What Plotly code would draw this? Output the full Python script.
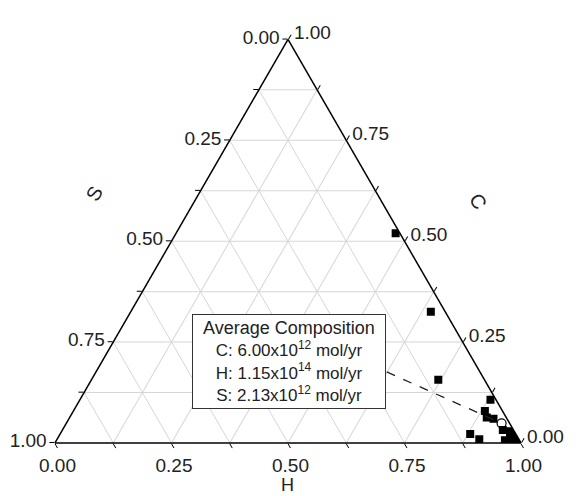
import plotly.graph_objects as go

# ---- data: sample compositions (fractions) ----
C_frac = [0.520, 0.325, 0.157, 0.107, 0.079, 0.063, 0.060, 0.032, 0.029, 0.027,
          0.022, 0.009, 0.007, 0.017, 0.011, 0.003, 0.007, 0.011, 0.001]
H_frac = [0.471, 0.644, 0.744, 0.881, 0.883, 0.895, 0.911, 0.945, 0.962, 0.967,
          0.880, 0.906, 0.962, 0.975, 0.985, 0.982, 0.991, 0.971, 0.994]
S_frac = [round(1 - c - h, 3) for c, h in zip(C_frac, H_frac)]

# ---- average composition (fluxes) ----
flux_species = ["C", "H", "S"]
flux_mantissa = [6.00, 1.15, 2.13]
flux_exponent = [12, 14, 12]
flux_values = [m * 10 ** e for m, e in zip(flux_mantissa, flux_exponent)]
flux_total = sum(flux_values)
avg_C, avg_H, avg_S = [v / flux_total for v in flux_values]

# leader line anchor (at the legend box edge), in composition space
leader_C, leader_H, leader_S = 0.176, 0.624, 0.200

# ---- ticks ----
tick_vals = [0, 0.125, 0.25, 0.375, 0.5, 0.625, 0.75, 0.875, 1.0]
major_ticks = [0, 0.25, 0.5, 0.75, 1.0]


def rev_text(vals):
    return [f"{1 - v:.2f}" if v in major_ticks else "" for v in vals]


font = "Liberation Sans, Arial, sans-serif"
axis_common = dict(
    min=0,
    tickmode="array",
    tickvals=tick_vals,
    ticktext=rev_text(tick_vals),
    showgrid=True,
    gridcolor="#d6d6d6",
    gridwidth=1,
    linecolor="black",
    linewidth=1.5,
    ticks="outside",
    ticklen=5,
    tickcolor="black",
    tickwidth=1,
    tickfont=dict(family=font, size=19, color="#222222"),
    title=dict(text=""),
)

fig = go.Figure()

fig.add_trace(go.Scatterternary(
    a=C_frac, b=S_frac, c=H_frac,
    mode="markers",
    marker=dict(symbol="square", size=8, color="black"),
    showlegend=False,
))

fig.add_trace(go.Scatterternary(
    a=[leader_C, avg_C], b=[leader_S, avg_S], c=[leader_H, avg_H],
    mode="lines",
    line=dict(color="#222222", width=1.3, dash="dash"),
    showlegend=False,
))

fig.add_trace(go.Scatterternary(
    a=[avg_C], b=[avg_S], c=[avg_H],
    mode="markers",
    marker=dict(symbol="circle-open", size=9, color="black", line=dict(width=1.2)),
    showlegend=False,
))

W, H = 576, 496
fig.update_layout(
    width=W, height=H,
    margin=dict(l=0, r=0, t=0, b=0),
    paper_bgcolor="white",
    font=dict(family=font, color="#222222"),
    ternary=dict(
        sum=1,
        bgcolor="white",
        domain=dict(x=[55 / W, 521 / W], y=[53 / H, 456.6 / H]),
        aaxis=axis_common,
        baxis=axis_common,
        caxis=axis_common,
    ),
)

legend_text = "<span style='font-size:18px'>Average Composition</span>"
for s, m, e in zip(flux_species, flux_mantissa, flux_exponent):
    legend_text += f"<br>{s}: {m:.2f}x10<sup>{e}</sup> mol/yr"

fig.add_annotation(
    x=289 / W, y=(H - 361) / H, xref="paper", yref="paper",
    xanchor="center", yanchor="middle",
    text=legend_text, showarrow=False, align="center",
    font=dict(family=font, size=17, color="#222222"),
    bgcolor="white", bordercolor="#333333", borderwidth=1, borderpad=2,
    width=188, height=89,
)

title_font = dict(family=font, size=20, color="#222222")
fig.add_annotation(x=94 / W, y=(H - 194) / H, xref="paper", yref="paper",
                   xanchor="center", yanchor="middle",
                   text="S", showarrow=False, textangle=-60, font=title_font)
fig.add_annotation(x=478 / W, y=(H - 201) / H, xref="paper", yref="paper",
                   xanchor="center", yanchor="middle",
                   text="C", showarrow=False, textangle=60, font=title_font)
fig.add_annotation(x=287 / W, y=(H - 485) / H, xref="paper", yref="paper",
                   xanchor="center", yanchor="middle",
                   text="H", showarrow=False,
                   font=dict(family=font, size=18, color="#222222"))

fig.write_html("out.html")
